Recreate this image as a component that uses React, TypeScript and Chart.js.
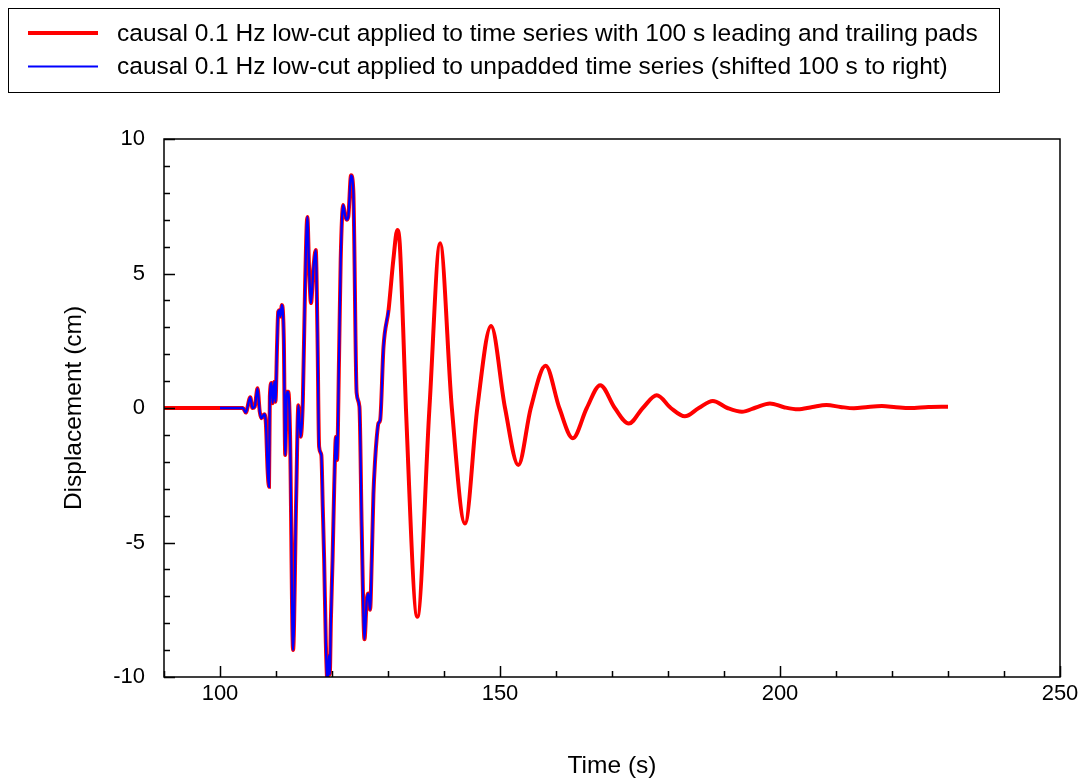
import React, { useEffect, useRef } from "react";
import { Chart, registerables } from "chart.js";

Chart.register(...registerables);

// ---- data (time in s, displacement in cm) ----
const leadTime = [90, 100];
const leadDisp = [0, 0];

const coreTime = [
  100.0, 104.1, 104.6, 105.4, 105.8, 106.2, 106.7, 107.1, 107.4, 107.9,
  108.2, 108.5, 108.75, 108.9, 109.2, 109.4, 109.7, 109.9, 110.2, 110.4,
  110.7, 110.8, 111.05, 111.4, 111.65, 111.95, 112.2, 112.5, 113.05, 113.6,
  114.0, 114.4, 114.8, 115.2, 115.6, 115.9, 116.25, 116.7, 117.1, 117.4,
  117.7, 118.1, 118.35, 118.6, 118.9, 119.2, 119.45, 119.6, 119.8, 120.1,
  120.4, 120.7, 120.9, 121.25, 121.55, 122.0, 122.3, 122.6, 122.9, 123.4,
  123.8, 124.4, 124.9, 125.3, 125.8, 126.2, 126.5, 126.8, 127.1, 127.4,
  127.7, 128.0, 128.3, 128.6, 129.2, 130.1,
];
const coreDisp = [
  0, 0, -0.17, 0.4, 0.0, 0.05, 0.73, -0.14, -0.38, -0.23,
  -0.6, -2.3, -2.93, 0.42, 0.93, 0.18, 0.98, 0.23, 2.42, 3.58,
  3.64, 3.4, 3.83, 2.5, -1.75, 0.6, 0.6, -0.9, -9.0, -3.4,
  0.1, -1.07, 0.3, 4.6, 7.1, 5.25, 3.9, 5.25, 5.87, 2.8,
  -1.44, -1.75, -3.67, -5.65, -8.74, -10.2, -9.2, -9.9, -7.9, -5.65,
  -2.9, -1.07, -1.93, 1.78, 5.5, 7.55, 7.2, 7.0, 7.1, 8.65,
  8.1, 0.56, 0.05, -4.4, -8.6, -7.14, -6.9, -7.5, -5.65, -3.2,
  -1.93, -1.07, -0.56, -0.45, 2.28, 3.64,
];

const tailTime = [
  130.95, 131.67, 132.1, 132.7, 133.2, 135.24, 137.4, 139.3, 141.4, 143.75,
  145.95, 148.4, 150.9, 153.27, 155.5, 158.15, 160.6, 163.0, 165.5, 167.9,
  170.5, 173.0, 175.5, 178.0, 180.5, 183.0, 185.5, 188.0, 190.6, 193.2,
  195.7, 198.2, 200.7, 203.2, 205.8, 208.3, 210.8, 213.2, 215.7, 218.2,
  220.7, 223.2, 226.5, 230.0,
];
const tailDisp = [
  5.5, 6.62, 6.1, 3.0, 0, -7.76, 0, 6.12, 0, -4.29,
  0, 3.05, 0, -2.12, 0, 1.57, 0, -1.12, 0, 0.85,
  0, -0.58, 0, 0.47, 0, -0.31, 0, 0.26, 0, -0.14,
  0.02, 0.17, 0.03, -0.05, 0.04, 0.11, 0.04, -0.01, 0.04, 0.07,
  0.03, 0.0, 0.04, 0.05,
];

const xTickValues = [100, 150, 200, 250];
const yTickValues = [-10, -5, 0, 5, 10];
const xMinorStep = 10;
const yMinorStep = 1;

const seriesLabels = [
  "causal 0.1 Hz low-cut applied to time series with 100 s leading and trailing pads",
  "causal 0.1 Hz low-cut applied to unpadded time series (shifted 100 s to right)",
];
const xTitle = "Time (s)";
const yTitle = "Displacement (cm)";

const FONT = "'Liberation Sans', Arial, Helvetica, sans-serif";
const BIG = 24.5;
const TICK = 22;

const toPoints = (xs: number[], ys: number[]) => xs.map((x, i) => ({ x, y: ys[i] }));

const frameAndTicks = {
  id: "frameAndTicks",
  afterDatasetsDraw(chart: any) {
    const { ctx, chartArea, scales } = chart;
    const { left, right, top, bottom } = chartArea;
    const x = scales.x;
    const y = scales.y;
    ctx.save();
    ctx.strokeStyle = "#000";
    ctx.lineWidth = 1.5;
    ctx.strokeRect(left, top, right - left, bottom - top);
    ctx.beginPath();
    for (let v = y.min; v <= y.max + 1e-9; v += yMinorStep) {
      const py = Math.round(y.getPixelForValue(v)) + 0.5;
      const major = yTickValues.includes(v);
      ctx.moveTo(left, py);
      ctx.lineTo(left + (major ? 11 : 6), py);
    }
    for (let v = Math.ceil(x.min / xMinorStep) * xMinorStep; v <= x.max + 1e-9; v += xMinorStep) {
      const px = Math.round(x.getPixelForValue(v)) + 0.5;
      const major = xTickValues.includes(v);
      ctx.moveTo(px, bottom);
      ctx.lineTo(px, bottom - (major ? 11 : 6));
    }
    ctx.stroke();
    ctx.restore();
  },
};

const boxLegend = {
  id: "boxLegend",
  afterDraw(chart: any) {
    const { ctx } = chart;
    const dsets = chart.data.datasets;
    const order = [1, 0];
    ctx.save();
    ctx.strokeStyle = "#000";
    ctx.lineWidth = 1;
    ctx.strokeRect(8.5, 8.5, 991, 84);
    ctx.font = `${BIG}px ${FONT}`;
    ctx.textBaseline = "middle";
    ctx.fillStyle = "#000";
    order.forEach((di, row) => {
      const d = dsets[di];
      const yy = 33 + row * 33.5;
      ctx.beginPath();
      ctx.strokeStyle = d.borderColor;
      ctx.lineWidth = di === 1 ? 4 : 2;
      ctx.moveTo(28, yy);
      ctx.lineTo(98, yy);
      ctx.stroke();
      ctx.fillText(d.label, 117, yy + 1);
    });
    ctx.restore();
  },
};

export default function App() {
  const ref = useRef<HTMLCanvasElement | null>(null);

  useEffect(() => {
    if (!ref.current) return;
    const redData = [
      ...toPoints(leadTime, leadDisp),
      ...toPoints(coreTime, coreDisp).slice(1),
      ...toPoints(tailTime, tailDisp),
    ];
    const blueData = toPoints(coreTime, coreDisp);

    const chart = new Chart(ref.current, {
      type: "line",
      data: {
        datasets: [
          {
            label: seriesLabels[1],
            data: blueData,
            borderColor: "#0000ff",
            borderWidth: 2.3,
            pointRadius: 0,
            cubicInterpolationMode: "monotone",
            order: 1,
          },
          {
            label: seriesLabels[0],
            data: redData,
            borderColor: "#ff0000",
            borderWidth: 4,
            pointRadius: 0,
            cubicInterpolationMode: "monotone",
            order: 2,
          },
        ],
      },
      options: {
        animation: false,
        responsive: true,
        maintainAspectRatio: false,
        devicePixelRatio: 1,
        layout: { padding: { top: 139, left: 0, right: 25, bottom: 0 } },
        plugins: {
          legend: { display: false },
          tooltip: { enabled: false },
        },
        scales: {
          x: {
            type: "linear",
            min: 90,
            max: 250,
            grid: { display: false, drawTicks: false },
            border: { display: false },
            afterBuildTicks: (s: any) => {
              s.ticks = xTickValues.map((v) => ({ value: v }));
            },
            afterFit: (s: any) => {
              s.height = 105;
            },
            ticks: {
              color: "#000",
              padding: 4,
              maxRotation: 0,
              autoSkip: false,
              font: { family: FONT, size: TICK },
            },
            title: {
              display: true,
              text: xTitle,
              color: "#000",
              font: { family: FONT, size: BIG },
              padding: { top: 0, bottom: 1 },
            },
          },
          y: {
            type: "linear",
            min: -10,
            max: 10,
            grid: { display: false, drawTicks: false },
            border: { display: false },
            afterBuildTicks: (s: any) => {
              s.ticks = yTickValues.map((v) => ({ value: v }));
            },
            afterFit: (s: any) => {
              s.width = 164;
            },
            ticks: {
              color: "#000",
              padding: 19,
              autoSkip: false,
              font: { family: FONT, size: TICK },
            },
            title: {
              display: true,
              text: yTitle,
              color: "#000",
              font: { family: FONT, size: BIG },
              padding: { top: 60, bottom: 0 },
            },
          },
        },
      },
      plugins: [frameAndTicks, boxLegend],
    });
    return () => chart.destroy();
  }, []);

  return (
    <div style={{ position: "fixed", left: 0, top: 0, width: 1085, height: 782, background: "#fff" }}>
      <canvas ref={ref} />
    </div>
  );
}
